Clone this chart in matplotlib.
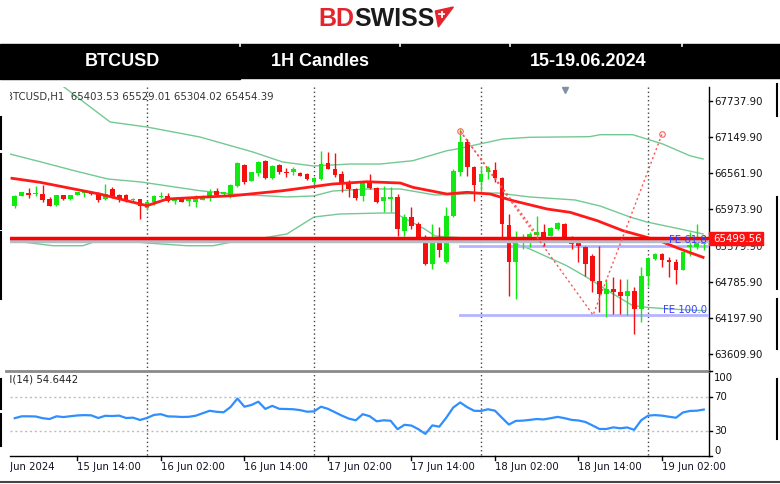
import numpy as np
import matplotlib
matplotlib.use("Agg")
import matplotlib.pyplot as plt
from matplotlib.patches import Rectangle, Polygon
from matplotlib.transforms import blended_transform_factory as blend

# BTCUSD H1 candles, bar 0 = 16 Jun 00:00 (first bar 15 Jun 05:00)
first_bar = -19
opens = [66023, 66186, 66235, 66218, 66218, 66137, 66039, 66194, 66129, 66210,
         66227, 66243, 66218, 66137, 66300, 66202, 66202, 66121, 66129, 65991,
         66083, 66165, 66191, 66109, 66137, 66109, 66083, 66126, 66181, 66272,
         66218, 66202, 66353, 66690, 66435, 66560, 66760, 66474, 66690, 66581,
         66571, 66555, 66544, 66414, 66462, 66723, 66625, 66544, 66414, 66300,
         66186, 66409, 66311, 66109, 66137, 66165, 65621, 65839, 65730, 65514,
         65079, 65442, 65107, 65865, 66581, 67069, 66653, 66418, 66571, 66614,
         66474, 65714, 65107, 65459, 65514, 65551, 65595, 65540, 65649, 65730,
         65486, 65432, 65351, 65215, 64808, 64591, 64673, 64629, 64564, 64645,
         64347, 64879, 65161, 65242, 65150, 65107, 64987, 65351, 65351, 65403.53]
highs = [66202, 66251, 66316, 66348, 66365, 66170, 66202, 66202, 66210, 66251,
         66251, 66251, 66251, 66381, 66332, 66218, 66218, 66153, 66137, 66121,
         66202, 66256, 66235, 66148, 66145, 66165, 66202, 66202, 66300, 66311,
         66251, 66373, 66744, 66706, 66581, 66760, 66776, 66690, 66706, 66637,
         66658, 66576, 66560, 66495, 66923, 66894, 66885, 66593, 66446, 66316,
         66435, 66544, 66332, 66353, 66332, 66218, 65893, 66002, 65763, 65551,
         65730, 65677, 66002, 66625, 67276, 67113, 66679, 66679, 66679, 66734,
         66490, 65893, 65621, 65568, 65595, 65865, 65730, 65677, 65763, 65747,
         65530, 65459, 65377, 65242, 65377, 64835, 64863, 64835, 64835, 64700,
         65026, 65189, 65258, 65258, 65189, 65161, 65280, 65595, 65730, 65529.01]
lows = [65991, 66178, 66153, 66186, 66088, 66023, 66023, 66113, 66121, 66202,
        66170, 66202, 66088, 66121, 66153, 66096, 66088, 66104, 65804, 65958,
        66039, 66153, 66093, 66056, 66080, 66028, 66002, 66113, 66109, 66191,
        66202, 66148, 66327, 66381, 66430, 66516, 66462, 66462, 66544, 66490,
        66528, 66511, 66446, 66397, 66446, 66625, 66495, 66251, 66170, 66121,
        66109, 66300, 66072, 65921, 65925, 65540, 65540, 65649, 65432, 65063,
        64998, 65188, 65096, 65844, 66516, 66516, 66109, 66272, 66462, 66409,
        65432, 64564, 64510, 65324, 65351, 65540, 65377, 65530, 65633, 65459,
        65324, 65107, 64889, 64619, 64294, 64212, 64266, 64266, 64250, 63940,
        64131, 64726, 65144, 65026, 64863, 64754, 64982, 65215, 65324, 65304.02]
closes = [66186, 66243, 66202, 66227, 66113, 66031, 66194, 66129, 66202, 66243,
          66243, 66218, 66113, 66218, 66170, 66145, 66113, 66145, 66023, 66096,
          66181, 66191, 66109, 66137, 66093, 66137, 66165, 66191, 66256, 66202,
          66246, 66365, 66723, 66418, 66571, 66744, 66474, 66679, 66571, 66560,
          66625, 66516, 66462, 66479, 66706, 66633, 66527, 66373, 66300, 66153,
          66414, 66311, 66093, 66165, 66170, 65649, 65839, 65703, 65514, 65079,
          65459, 65312, 65856, 66597, 67069, 66653, 66365, 66544, 66637, 66474,
          65730, 65107, 65475, 65514, 65568, 65605, 65514, 65660, 65747, 65475,
          65405, 65377, 65079, 64808, 64591, 64673, 64629, 64564, 64645, 64347,
          64879, 65172, 65242, 65150, 65107, 64987, 65270, 65389, 65432, 65454.39]

rsi = [44.5, 46.7, 46.7, 46.5, 44.5, 43.5, 46.7, 45.8, 46.8, 47.7,
       48.1, 47.8, 44.7, 47.3, 47.0, 47.5, 44.7, 45.1, 42.4, 44.7,
       48.3, 49.2, 46.6, 46.4, 45.9, 46.1, 47.4, 50.3, 53.2, 52.0,
       51.4, 57.6, 67.6, 58.0, 60.0, 63.9, 55.4, 59.0, 55.5, 55.3,
       55.0, 54.0, 52.1, 52.5, 58.0, 55.5, 51.5, 47.5, 44.0, 42.0,
       49.2, 46.8, 40.8, 42.0, 41.5, 31.5, 36.7, 35.8, 31.5, 26.0,
       36.0, 34.5, 45.0, 57.0, 63.0, 57.5, 53.2, 53.0, 55.0, 53.3,
       45.0, 37.0, 41.3, 41.6, 42.5, 43.5, 43.0, 44.5, 46.0, 44.5,
       42.5, 41.8, 40.0, 36.0, 31.8, 31.8, 33.7, 32.6, 33.6, 30.8,
       42.0, 47.5, 48.1, 47.5, 46.2, 45.0, 51.2, 53.0, 53.3, 54.64]

# indicator lines read at a few bars
upper_t = [-13, -5.3, 0, 7.6, 15.2, 19.5, 23.9, 29.2, 33.5, 38.2, 43.1, 44.5,
           47.8, 51.1, 55, 63.6, 65.1, 69.8, 74.1, 78, 79.9]
upper_v = [68050, 67390, 67308, 67146, 66902, 66739, 66674, 66706, 66706, 66760,
           66923, 66950, 67032, 67113, 67141, 67151, 67183, 67183, 67032, 66841, 66788]
mid_t = [-19.7, -15.2, -10.3, -5.6, -0.9, 7.6, 12.4, 20.1, 23.9, 26.7, 31.6,
         36.4, 41.4, 45.4, 50.3, 55, 61.5, 65.1, 69.4, 71.8, 76.6, 79.9]
mid_v = [66869, 66739, 66593, 66462, 66414, 66272, 66218, 66170, 66186, 66267,
         66300, 66300, 66202, 66218, 66235, 66170, 66121, 66023, 65844, 65763,
         65649, 65568]
low_t = [-19.4, -13.5, -9.2, -7.2, -2.9, 0, 5.7, 9.5, 12.4, 15.2, 20.1, 24,
         27.7, 33.8, 35.6, 39.9, 41.4, 47.8, 52.2, 55, 60.3, 63.2, 67, 69.8,
         71.8, 75.1, 80.2]
low_v = [65459, 65377, 65377, 65454, 65454, 65421, 65377, 65377, 65442, 65475,
         65568, 65844, 65893, 65909, 65909, 65649, 65535, 65486, 65437, 65324,
         65052, 64863, 64591, 64401, 64375, 64347, 64320]
ma_t = [-19.4, -15.4, -6.8, 0, 2.9, 7.6, 12.4, 19.5, 26.7, 31.6, 36.4, 38.2,
        43.1, 46, 49.3, 52.6, 57.5, 60.8, 64.7, 68.4, 71.8, 74.1, 76.6, 79.9]
ma_v = [66474, 66409, 66218, 66028, 66137, 66165, 66191, 66272, 66381, 66418,
        66397, 66327, 66218, 66246, 66218, 66109, 65974, 65920, 65784, 65621,
        65514, 65437, 65324, 65188]

price_ticks = ["67737.90", "67149.90", "66561.90", "65973.90", "64785.90",
               "64197.90", "63609.90"]
rsi_ticks = [100, 70, 30, 0]
time_bars = [-22, -10, 2, 14, 26, 38, 50, 62, 74]
time_labels = ["15 Jun 2024", "15 Jun 14:00", "16 Jun 02:00", "16 Jun 14:00",
               "17 Jun 02:00", "17 Jun 14:00", "18 Jun 02:00", "18 Jun 14:00",
               "19 Jun 02:00"]
day_breaks = [0, 24, 48, 72]
level_line = 65499.56
bid_line = 65454.39
hidden_tick = "65379.90"
fe_levels = [65377, 64250]
fe_names = ["FE 61.8", "FE 100.0"]
fibo_a = (45, 67243)
fibo_b = (64.1, 64250)
fibo_b2 = (56, 65567)
fibo_c = (74, 67194)

GREEN = "#12e812"
RED = "#f50f0f"
BAND = "#5cbf80"
SMALL = 7.3
NARROW = ["Liberation Sans Narrow", "Liberation Sans", "DejaVu Sans"]

fig = plt.figure(figsize=(7.8, 4.85), dpi=100)
ov = fig.add_axes([0, 0, 1, 1])
ov.set_xlim(0, 780)
ov.set_ylim(485, 0)
ov.axis("off")


def box(x0, y0, x1, y1):
    return [x0 / 780, 1 - y1 / 485, (x1 - x0) / 780, (y1 - y0) / 485]


ax = fig.add_axes(box(10, 88, 709, 371))
rx = fig.add_axes(box(10, 372, 709, 457), sharex=ax)
for a in (ax, rx):
    a.set_facecolor("none")
    for s in a.spines.values():
        s.set_visible(False)
    a.tick_params(left=False, bottom=False, labelleft=False, labelbottom=False)
ax.set_xlim(-19.68, 80.75)
ax.set_ylim(63355, 67959)
rx.set_ylim(0, 100)

# ---- header ----
ov.add_patch(Rectangle((0, 45), 780, 34, color="black"))
ov.add_patch(Rectangle((0, 78), 240, 2, color="black"))
for sx in [240, 400, 510, 682]:
    ov.plot([sx, sx], [45, 47], color="white", lw=1.2)
for cx, t in zip([122, 320, 588], ["BTCUSD", "1H Candles", "15-19.06.2024"]):
    ov.text(cx, 62, t, color="white", fontsize=13, fontweight="bold",
            family=NARROW, ha="center", va="center")

bd = ov.text(318, 19, "BD", color="#e3262e", fontsize=18, fontweight="bold",
             family=NARROW, ha="left", va="center")
fig.canvas.draw()
bb = bd.get_window_extent().transformed(ov.transData.inverted())
sw = ov.text(bb.x1, 19, "SWISS", color="#1a1a1a", fontsize=18,
             fontweight="bold", family=NARROW, ha="left", va="center")
fig.canvas.draw()
bb2 = sw.get_window_extent().transformed(ov.transData.inverted())
lx = bb2.x1 + 1
ov.add_patch(Polygon([(lx, 12), (lx + 18, 8), (lx + 3, 28)], color="#e3262e"))
ov.plot([lx + 4, lx + 9], [15, 15], color="white", lw=1.3)
ov.plot([lx + 6.5, lx + 6.5], [12.5, 17.5], color="white", lw=1.3)

# ---- frame lines ----
xb = blend(ax.transData, ov.transData)
for d in day_breaks:
    ov.plot([d, d], [88, 459], transform=xb, color="#444444", lw=1,
            ls=(0, (1, 2)))
ov.plot([709, 709], [88, 457], color="black", lw=1)
ov.plot([6, 709], [372, 372], color="#8a8a8a", lw=2)
ov.plot([10, 709], [457, 457], color="black", lw=1)
ov.plot([0, 780], [482.5, 482.5], color="#444444", lw=1.5)
for y0, y1 in [(118, 150), (155, 230), (233, 300), (380, 410), (415, 447)]:
    ov.plot([1, 1], [y0, y1], color="black", lw=1.5)
for y0, y1 in [(85, 117), (198, 290), (300, 350), (380, 440)]:
    ov.plot([777, 777], [y0, y1], color="black", lw=1.5)
ov.plot(565, 91, marker="v", ms=4, color="#8090a8")

# ---- price axis ----
yb = blend(ov.transData, ax.transData)
ov.text(714, float(hidden_tick), hidden_tick, transform=yb, fontsize=SMALL,
        va="center", color="#222222")
for t in price_ticks:
    p = float(t)
    ov.plot([709, 712], [p, p], transform=yb, color="black", lw=1)
    ov.text(714, p, t, transform=yb, fontsize=SMALL, va="center",
            color="#111111")
lab_h = 215
ov.add_patch(Rectangle((709, level_line - lab_h / 2), 54, lab_h, transform=yb,
                       color="#ff1010", zorder=5))
ov.text(713, level_line, f"{level_line:.2f}", transform=yb, fontsize=SMALL,
        va="center", color="white", zorder=6)

rb = blend(ov.transData, rx.transData)
for v, yy in zip(rsi_ticks, [93, 70, 30, 7]):
    ov.text(714, yy, str(v), transform=rb, fontsize=SMALL, va="center",
            color="#111111")
    ov.plot([709, 712], [v, v], transform=rb, color="black", lw=1)

# ---- time axis ----
clip = Rectangle((10, 0), 770, 485, transform=ov.transData, visible=False)
ov.add_patch(clip)
for b, t in zip(time_bars, time_labels):
    ov.plot([b, b], [457, 461], transform=xb, color="black", lw=1)
    tt = ov.text(b, 467, t, transform=xb, fontsize=SMALL, ha="left",
                 va="center", color="#111122", clip_on=True)
    tt.set_clip_path(clip)

# ---- main panel ----
bars = np.arange(first_bar, first_bar + len(opens))
o = np.array(opens)
c = np.array(closes)
h = np.array(highs)
l = np.array(lows)
col = np.where(c >= o, GREEN, RED)
ax.vlines(bars, l, h, colors=col, lw=1, zorder=3)
ax.bar(bars, np.maximum(np.abs(c - o), 14), bottom=np.minimum(o, c),
       width=0.68, color=col, lw=0, zorder=4)

for tt_, vv in [(upper_t, upper_v), (mid_t, mid_v), (low_t, low_v)]:
    ax.plot(tt_, vv, color=BAND, lw=1, alpha=0.85, zorder=2)
ax.plot(ma_t, ma_v, color="#ff1a1a", lw=2, zorder=5)

ax.axhline(bid_line, color="#b4bcc8", lw=2.5, zorder=5)
ax.axhline(level_line, color="#ff0000", lw=2.5, zorder=6)

for lev, name in zip(fe_levels, fe_names):
    ax.plot([fibo_a[0], 80.6], [lev, lev], color="#b4b4ff", lw=2, zorder=2)
    ax.text(80.5, lev + 20, name, color="#3c3cff", fontsize=SMALL,
            ha="right", va="bottom", zorder=7)

dot = dict(color="#ff5050", lw=1, ls=(0, (1.5, 2)), zorder=6)
ax.plot([fibo_a[0], fibo_b2[0]], [fibo_a[1], fibo_b2[1]], **dot)
ax.plot([fibo_a[0], fibo_b[0], fibo_c[0]], [fibo_a[1], fibo_b[1], fibo_c[1]],
        **dot)
ax.plot([fibo_a[0], fibo_c[0]], [fibo_a[1], fibo_c[1]], ls="none",
        marker="o", ms=4, mfc="none", mec="#ff6060", mew=0.8, zorder=6)

ax.text(6, 97, "BTCUSD,H1  65403.53 65529.01 65304.02 65454.39",
        transform=ov.transData, fontsize=SMALL, color="#333333",
        va="center", ha="left", clip_on=True)

# ---- RSI panel ----
for g in [70, 30]:
    rx.axhline(g, color="#bdbdbd", lw=1, ls=(0, (1.5, 2)))
rx.plot(bars, rsi, color="#2f8fff", lw=1.6)
rx.text(-4, 380, "RSI(14) 54.6442", transform=ov.transData, fontsize=SMALL,
        color="#222222", va="center", ha="left", clip_on=True)

fig.savefig("out.png", dpi=100)
